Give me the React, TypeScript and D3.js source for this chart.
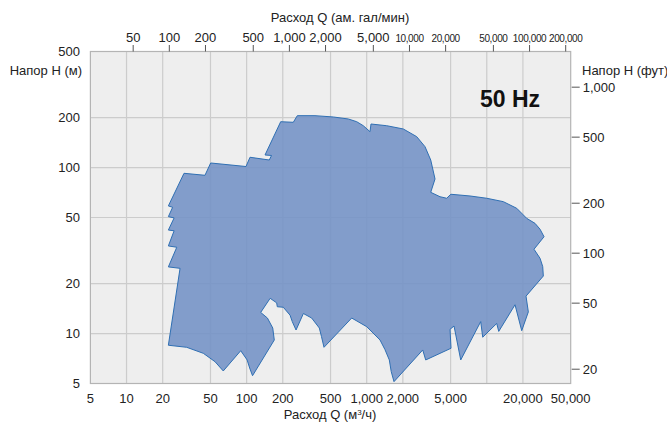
import React from 'react';
import * as d3 from 'd3';

// Bottom axis: flow Q (m³/h)
const flowTicks = [5, 10, 20, 50, 100, 200, 500, 1000, 2000, 5000, 20000, 50000];
const flowGrid = [10, 20, 50, 100, 200, 500, 1000, 2000, 5000, 10000, 20000];
// Left axis: head H (m)
const headTicks = [5, 10, 20, 50, 100, 200, 500];
const headGrid = [10, 20, 50, 100, 200];
// Top axis: US gal/min
const gpmTicks = [50, 100, 200, 500, 1000, 2000, 5000, 10000, 20000, 50000, 100000, 200000];
// Right axis: feet
const ftTicks = [20, 50, 100, 200, 500, 1000];

// Envelope of the pump range (Q m³/h, H m), clockwise
const envelopeQ = [
  22.3, 27.9, 22.3, 26.2, 22.3, 24.9, 22.3, 24.9, 22.3, 24.2, 22.3, 30.1, 45.0, 50.2, 98.8, 106.7,
  154.5, 161.2, 142.3, 192.2, 244.8, 264.3, 371, 527, 703, 826, 937, 1066, 1086, 1468, 2018, 2610,
  3060, 3414, 3707, 3414, 4080, 4638, 4942, 5038, 7253, 9990, 13730, 17760, 20160, 21510, 25220,
  27770, 29990, 24740, 27770, 29240, 29580, 21230, 22190, 19550, 17190, 12580, 12100, 9254, 8904,
  6069, 5336, 4942, 5038, 3101, 2928, 1688, 1600, 1543, 1420, 1291, 1000, 750, 441, 420, 403, 348, 297, 258, 240, 230,
  202, 180, 178, 157, 131, 149, 165, 170, 112, 106, 101, 89.3, 63.9, 54.5, 43.6, 31.7,
];
const envelopeH = [
  8.5, 24.7, 25.2, 33.1, 33.7, 41.6, 42.0, 49.7, 50.6, 57.6, 58.7, 92.3, 89.8, 106.5, 101.4, 115.3,
  111.0, 118.2, 119.0, 188.8, 187.3, 205.3, 205.3, 201.6, 196.1, 188.8, 178.6, 164.4, 182.9, 178.6, 170.7, 153.4,
  133.5, 111.0, 85.3, 70.9, 66.7, 65.3, 68.3, 69.0, 67.4, 65.3, 62.3, 56.8, 51.8, 49.4, 46.1,
  42.5, 38.3, 32.2, 28.4, 25.3, 22.2, 16.8, 13.5, 10.4, 14.9, 10.3, 11.5, 9.5, 11.8,
  6.93, 11.1, 10.6, 8.15, 6.93, 7.96, 5.13, 5.9, 6.93, 8.0, 9.14, 11.0, 12.4, 8.26, 9.6, 10.8, 12.4, 13.2, 10.5, 11.8, 12.9,
  14.4, 14.5, 15.3, 16.3, 13.4, 12.4, 10.8, 9.14, 5.57, 6.2, 6.93, 7.88, 5.95, 6.77, 7.60, 8.26,
];

const W = 667;
const H = 423;
const left = 90.4;
const right = 570.7;
const top = 51.5;
const bottom = 383.5;
const M3H_PER_GPM = 1 / 4.40287;
const M_PER_FT = 0.3048;
const FONT = '"Liberation Sans", Arial, sans-serif';

export default function App() {
  const x = d3.scaleLog().domain([5, 50000]).range([left, right]);
  const y = d3.scaleLog().domain([5, 500]).range([bottom, top]);
  const fmt = d3.format(',');
  const pts: [number, number][] = envelopeQ.map((q, i) => [q, envelopeH[i]]);
  const line = d3
    .line<[number, number]>()
    .x((d) => x(d[0]))
    .y((d) => y(d[1]))
    .curve(d3.curveLinearClosed);

  return (
    <svg
      width={W}
      height={H}
      style={{ position: 'absolute', left: 0, top: 0, background: '#fff' }}
      fontFamily={FONT}
    >
      <rect x={left} y={top} width={right - left} height={bottom - top} fill="#eeeeee" />
      {flowGrid.map((v) => (
        <line key={'gx' + v} x1={x(v)} x2={x(v)} y1={top} y2={bottom} stroke="#cccccc" strokeWidth={1.2} />
      ))}
      {headGrid.map((v) => (
        <line key={'gy' + v} x1={left} x2={right} y1={y(v)} y2={y(v)} stroke="#cccccc" strokeWidth={1.2} />
      ))}
      <path d={line(pts) || ''} fill="#7594c6" fillOpacity={0.9} stroke="#2f6fb3" strokeWidth={1} strokeLinejoin="miter" />
      <rect x={left} y={top} width={right - left} height={bottom - top} fill="none" stroke="#b4b4b4" strokeWidth={1.2} />

      {/* bottom axis */}
      {flowTicks.map((v) => (
        <text key={'bx' + v} x={x(v)} y={403} fontSize={13} textAnchor="middle" fill="#222">
          {fmt(v)}
        </text>
      ))}
      <text x={330} y={419} fontSize={13} textAnchor="middle" fill="#222">
        Расход Q (м<tspan dy={-4} fontSize={8}>3</tspan>
        <tspan dy={4}>/ч)</tspan>
      </text>

      {/* left axis */}
      {headTicks.map((v) => (
        <text key={'ly' + v} x={80} y={y(v) + 4.5} fontSize={13} textAnchor="end" fill="#222">
          {v}
        </text>
      ))}
      <text x={82} y={75} fontSize={13} textAnchor="end" fill="#222">
        Напор H (м)
      </text>

      {/* top axis */}
      <text x={340} y={22} fontSize={13} textAnchor="middle" fill="#222">
        Расход Q (ам. гал/мин)
      </text>
      {gpmTicks.map((g) => {
        const px = x(g * M3H_PER_GPM);
        const small = g >= 10000;
        return (
          <g key={'tx' + g}>
            <line x1={px} x2={px} y1={45} y2={top} stroke="#555" strokeWidth={1} />
            <text
              x={px}
              y={42}
              fontSize={small ? 10 : 13}
              letterSpacing={small ? -0.4 : 0}
              textAnchor="middle"
              fill="#222"
            >
              {fmt(g)}
            </text>
          </g>
        );
      })}

      {/* right axis */}
      {ftTicks.map((f) => {
        const py = y(f * M_PER_FT);
        return (
          <g key={'ry' + f}>
            <line x1={right + 1} x2={right + 9} y1={py} y2={py} stroke="#555" strokeWidth={1} />
            <text x={right + 12} y={py + 4.5} fontSize={13} fill="#222">
              {fmt(f)}
            </text>
          </g>
        );
      })}
      <text x={582} y={75} fontSize={13} fill="#222">
        Напор H (фут)
      </text>

      <text x={510} y={107} fontSize={23} fontWeight="bold" textAnchor="middle" fill="#111">
        50 Hz
      </text>
    </svg>
  );
}
